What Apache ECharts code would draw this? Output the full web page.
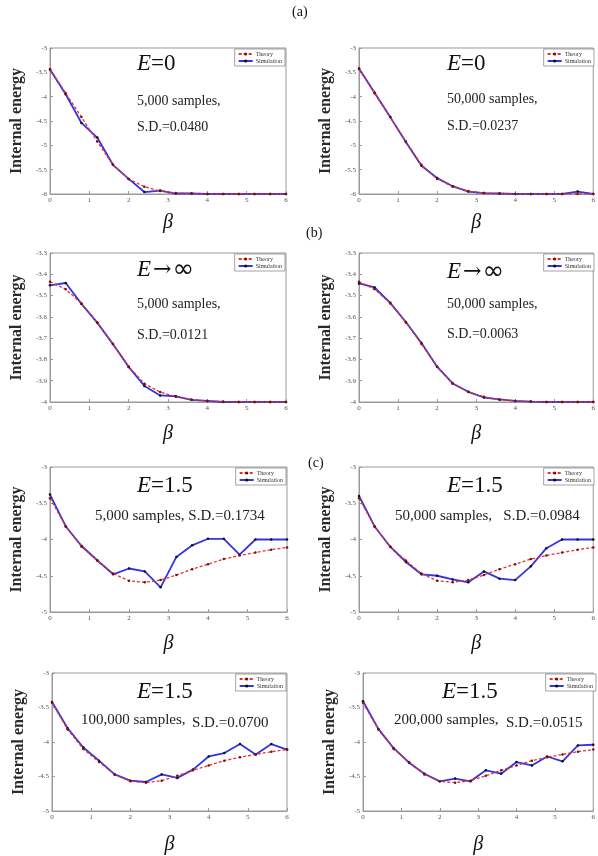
<!DOCTYPE html>
<html>
<head>
<meta charset="utf-8">
<script src="https://cdn.jsdelivr.net/npm/echarts@6/dist/echarts.min.js"></script>
<style>
  html, body { margin: 0; padding: 0; background: #fff; }
  #chart { width: 598px; height: 856px; }
</style>
</head>
<body>
<div id="chart"></div>
<script>
// beta values (x) shared by all panels
const beta = [0, 0.4, 0.8, 1.2, 1.6, 2.0, 2.4, 2.8, 3.2, 3.6, 4.0, 4.4, 4.8, 5.2, 5.6, 6.0];

// (a) E = 0
const theoryA = [-3.43, -3.93, -4.42, -4.92, -5.40, -5.69, -5.85, -5.94, -5.98, -5.99, -6, -6, -6, -6, -6, -6];
const simA5k  = [-3.44, -3.95, -4.54, -4.84, -5.40, -5.69, -5.96, -5.93, -5.99, -5.99, -6, -6, -6, -6, -6, -6];
const simA50k = [-3.42, -3.92, -4.42, -4.93, -5.42, -5.67, -5.84, -5.95, -5.98, -5.99, -6, -6, -6, -6, -5.95, -6];

// (b) E -> infinity
const theoryB = [-3.435, -3.47, -3.537, -3.626, -3.727, -3.834, -3.914, -3.953, -3.975, -3.989, -3.995, -3.998, -4, -4, -4, -4];
const simB5k  = [-3.452, -3.441, -3.539, -3.627, -3.728, -3.835, -3.925, -3.969, -3.973, -3.99, -3.995, -4, -4, -4, -4, -4];
const simB50k = [-3.443, -3.462, -3.534, -3.624, -3.723, -3.834, -3.913, -3.952, -3.979, -3.988, -3.995, -3.998, -4, -4, -4, -4];

// (c) E = 1.5
const theoryC  = [-3.43, -3.82, -4.10, -4.29, -4.47, -4.57, -4.59, -4.56, -4.49, -4.41, -4.34, -4.27, -4.22, -4.18, -4.14, -4.11];
const simC5k   = [-3.38, -3.82, -4.09, -4.29, -4.48, -4.40, -4.44, -4.66, -4.24, -4.08, -3.99, -3.99, -4.21, -4.0, -4.0, -4.0];
const simC50k  = [-3.40, -3.82, -4.10, -4.31, -4.48, -4.50, -4.55, -4.59, -4.44, -4.54, -4.56, -4.37, -4.12, -4.0, -4.0, -4.0];
const simC100k = [-3.42, -3.80, -4.08, -4.27, -4.47, -4.56, -4.58, -4.47, -4.52, -4.40, -4.21, -4.16, -4.03, -4.18, -4.03, -4.11];
const simC200k = [-3.41, -3.81, -4.09, -4.30, -4.46, -4.57, -4.53, -4.57, -4.41, -4.46, -4.29, -4.34, -4.21, -4.28, -4.05, -4.04];

const seriesNames = ['Theory', 'Simulation'];

// panel layout (px boxes) + which data goes where
const panels = [
  { l: 50,  t: 48,  r: 286, b: 194, ymin: -6, ymax: -3,   yint: 0.5, th: theoryA, sim: simA5k,   gap: 19 },
  { l: 359, t: 48,  r: 595, b: 194, ymin: -6, ymax: -3,   yint: 0.5, th: theoryA, sim: simA50k,  gap: 19 },
  { l: 50,  t: 253, r: 286, b: 402, ymin: -4, ymax: -3.3, yint: 0.1, th: theoryB, sim: simB5k,   gap: 22 },
  { l: 359, t: 253, r: 595, b: 402, ymin: -4, ymax: -3.3, yint: 0.1, th: theoryB, sim: simB50k,  gap: 22 },
  { l: 50,  t: 467, r: 287, b: 612, ymin: -5, ymax: -3,   yint: 0.5, th: theoryC, sim: simC5k,   gap: 22 },
  { l: 359, t: 467, r: 595, b: 612, ymin: -5, ymax: -3,   yint: 0.5, th: theoryC, sim: simC50k,  gap: 22 },
  { l: 52,  t: 673, r: 287, b: 818, ymin: -5, ymax: -3,   yint: 0.5, th: theoryC, sim: simC100k, gap: 24 },
  { l: 363, t: 673, r: 597, b: 818, ymin: -5, ymax: -3,   yint: 0.5, th: theoryC, sim: simC200k, gap: 24 }
];

const W = 598;
const serif = 'Liberation Serif, Times New Roman, serif';

const grid = [], xAxis = [], yAxis = [], series = [], legend = [];

panels.forEach((p, i) => {
  grid.push({
    left: p.l, top: p.t, width: p.r - p.l, height: p.b - p.t,
    show: true, borderColor: '#9a9a9a', borderWidth: 1, backgroundColor: '#fff'
  });
  xAxis.push({
    type: 'value', gridIndex: i, min: 0, max: 6, interval: 1,
    name: 'β', nameLocation: 'middle', nameGap: p.gap,
    nameTextStyle: { fontFamily: serif, fontStyle: 'italic', fontSize: 20, color: '#111' },
    axisLine: { show: true, lineStyle: { color: '#9a9a9a' } },
    axisTick: { show: true, inside: true, length: 3, lineStyle: { color: '#9a9a9a' } },
    axisLabel: { fontFamily: serif, fontSize: 7, color: '#555', margin: 3 },
    splitLine: { show: false }
  });
  yAxis.push({
    type: 'value', gridIndex: i, min: p.ymin, max: p.ymax, interval: p.yint,
    name: 'Internal energy', nameLocation: 'middle', nameGap: 25, nameRotate: 90,
    nameTextStyle: { fontFamily: serif, fontWeight: 'bold', fontSize: 16, color: '#2a2a2a' },
    axisLine: { show: true, lineStyle: { color: '#9a9a9a' } },
    axisTick: { show: true, inside: true, length: 3, lineStyle: { color: '#9a9a9a' } },
    axisLabel: { fontFamily: serif, fontSize: 7, color: '#555', margin: 3 },
    splitLine: { show: false }
  });
  series.push({
    name: seriesNames[0], type: 'line', xAxisIndex: i, yAxisIndex: i,
    data: beta.map((b, k) => [b, p.th[k]]),
    symbol: 'circle', symbolSize: 2.5,
    itemStyle: { color: '#7a1010' },
    lineStyle: { color: '#e3342c', width: 1.3, type: [3, 2] },
    z: 3, animation: false
  });
  series.push({
    name: seriesNames[1], type: 'line', xAxisIndex: i, yAxisIndex: i,
    data: beta.map((b, k) => [b, p.sim[k]]),
    symbol: 'circle', symbolSize: 2.5,
    itemStyle: { color: '#111' },
    lineStyle: { color: '#3434e0', width: 1.8 },
    z: 2, animation: false
  });
  legend.push({
    data: seriesNames, orient: 'vertical',
    right: W - p.r + 1, top: p.t + 1,
    itemWidth: 14, itemHeight: 4, itemGap: 1,
    padding: [2, 3], backgroundColor: '#fff',
    borderColor: '#666', borderWidth: 0.6,
    textStyle: { fontFamily: serif, fontSize: 6, color: '#333', padding: [0, 0, 0, -2] },
    selectedMode: false
  });
});

// text annotations inside the panels
const eStyle = {
  e: { fontFamily: serif, fontStyle: 'italic', fontSize: 23, fill: '#111' },
  n: { fontFamily: serif, fontSize: 23, fill: '#111' },
  a: { fontFamily: 'DejaVu Serif', fontSize: 22, fill: '#111', padding: [0, 1, 0, 2] },
  inf: { fontFamily: 'DejaVu Sans', fontSize: 26, fill: '#111' }
};
function big(x, y, tail) {
  return { type: 'text', left: x, top: y, z: 100,
    style: { text: '{e|E}' + tail, rich: eStyle, fill: '#111' } };
}
function small(x, y, txt, size) {
  return { type: 'text', left: x, top: y, z: 100,
    style: { text: txt, fontFamily: serif, fontSize: size || 14, fill: '#222' } };
}

const graphic = [
  { type: 'text', left: 292, top: 5, style: { text: '(a)', fontFamily: serif, fontSize: 14, fill: '#111' } },
  { type: 'text', left: 306, top: 226, style: { text: '(b)', fontFamily: serif, fontSize: 14, fill: '#111' } },
  { type: 'text', left: 308, top: 456, style: { text: '(c)', fontFamily: serif, fontSize: 14, fill: '#111' } },

  big(137, 52, '{n|=0}'), small(137, 94, '5,000 samples,'), small(137, 120, 'S.D.=0.0480'),
  big(447, 52, '{n|=0}'), small(447, 92, '50,000 samples,'), small(447, 119, 'S.D.=0.0237'),

  big(137, 257, '{a|→}{inf|∞}'), small(137, 297, '5,000 samples,'), small(137, 328, 'S.D.=0.0121'),
  big(447, 259, '{a|→}{inf|∞}'), small(447, 297, '50,000 samples,'), small(447, 327, 'S.D.=0.0063'),

  big(137, 474, '{n|=1.5}'), small(95, 509, '5,000 samples, S.D.=0.1734', 15),
  big(447, 474, '{n|=1.5}'), small(395, 509, '50,000 samples,   S.D.=0.0984', 15),
  big(137, 680, '{n|=1.5}'), small(81, 713, '100,000 samples,', 15), small(192, 716, 'S.D.=0.0700', 15),
  big(442, 680, '{n|=1.5}'), small(394, 713, '200,000 samples,', 15), small(506, 716, 'S.D.=0.0515', 15)
];

const chart = echarts.init(document.getElementById('chart'), null, { renderer: 'canvas' });
chart.setOption({
  animation: false,
  backgroundColor: '#fff',
  grid, xAxis, yAxis, series, legend, graphic
});
</script>
</body>
</html>
